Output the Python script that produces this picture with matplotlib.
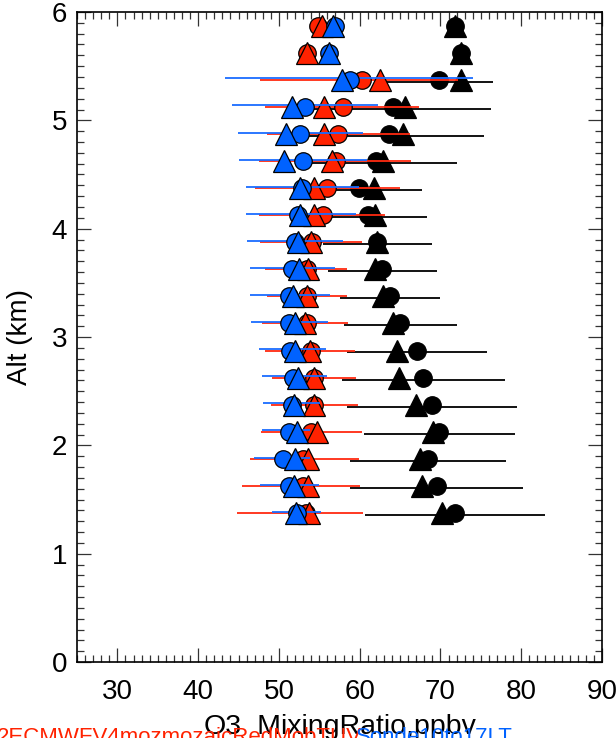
import numpy as np
import matplotlib
matplotlib.use("Agg")
import matplotlib.pyplot as plt
from matplotlib.ticker import MultipleLocator

plt.rcParams['font.family'] = ['Liberation Sans', 'DejaVu Sans']

# Altitude levels (km)
alt = [1.375, 1.625, 1.875, 2.125, 2.375, 2.625, 2.875, 3.125, 3.375, 3.625,
       3.875, 4.125, 4.375, 4.625, 4.875, 5.125, 5.375, 5.625, 5.875]

# Blue series (Sonde)
blue_circ = [52.2, 51.2, 50.5, 51.2, 51.6, 51.8, 51.4, 51.2, 51.2, 51.6,
             52.0, 52.4, 52.9, 53.0, 52.6, 53.2, 58.8, 56.2, 56.9]
blue_tri = [52.1, 51.9, 52.0, 52.2, 51.9, 52.3, 52.0, 52.0, 51.8, 52.5,
            52.3, 52.6, 52.6, 50.6, 50.9, 51.6, 57.8, 56.2, 56.7]
blue_lo = [49.1, 47.6, 46.9, 47.9, 48.0, 47.9, 47.5, 46.5, 46.4, 46.4,
           46.0, 45.9, 45.9, 45.1, 44.9, 44.2, 43.3, np.nan, np.nan]
blue_hi = [55.2, 55.0, 53.8, 53.8, 55.1, 55.9, 55.8, 56.1, 56.3, 56.9,
           57.9, 59.5, 59.9, 60.9, 60.4, 62.3, 74.0, np.nan, np.nan]

# Red series (model)
red_circ = [53.3, 53.0, 53.0, 54.0, 54.3, 54.3, 54.0, 53.5, 53.5, 53.5,
            54.1, 55.5, 55.9, 57.1, 57.3, 57.9, 60.3, 53.5, 54.8]
red_tri = [53.7, 53.6, 53.6, 54.7, 54.3, 54.4, 53.8, 53.2, 53.5, 53.6,
           54.0, 54.3, 54.3, 56.6, 55.6, 55.6, 62.5, 53.5, 55.3]
red_lo = [44.8, 45.4, 46.4, 47.8, 49.0, 49.1, 48.3, 47.9, 48.5, 48.3,
          47.6, 47.5, 47.0, 47.5, 48.5, 48.3, 47.7, np.nan, np.nan]
red_hi = [60.4, 60.0, 59.9, 60.3, 59.8, 59.5, 59.4, 58.5, 58.4, 58.4,
          60.3, 63.1, 65.0, 66.3, 66.2, 67.4, 72.2, np.nan, np.nan]

# Black series
blk_circ = [71.8, 69.6, 68.5, 69.8, 68.9, 67.8, 67.1, 65.0, 63.7, 62.8,
            62.1, 61.0, 59.9, 62.0, 63.6, 64.1, 69.8, 72.6, 71.8]
blk_tri = [70.2, 67.7, 67.5, 69.1, 67.0, 64.9, 64.6, 64.1, 62.9, 61.9,
           62.1, 61.9, 61.8, 62.9, 65.3, 65.6, 72.6, 72.6, 71.8]
blk_lo = [60.6, 58.8, 58.8, 60.5, 58.4, 57.8, 58.4, 58.0, 57.5, 56.1,
          55.5, 53.7, 52.1, 52.0, 51.8, 51.9, 63.1, np.nan, np.nan]
blk_hi = [83.0, 80.2, 78.1, 79.2, 79.5, 78.0, 75.8, 72.0, 70.0, 69.6,
          68.9, 68.3, 67.7, 72.0, 75.4, 76.3, 76.5, np.nan, np.nan]

x_label = "O3_MixingRatio,ppbv"
y_label = "Alt (km)"
red_name = "2ECMWFV4mozmozaicRedMobTUV"
blue_name = "Sonde10to17LT"

RED = '#ff2200'
BLUE = '#0062ff'
BLACK = '#000000'

W, H = 616, 738
fig = plt.figure(figsize=(W / 100, H / 100), dpi=100)
ax = fig.add_axes([77 / W, 1 - 662 / H, (602 - 77) / W, (662 - 12) / H])

a = np.array(alt)
series = [
    (BLACK, blk_circ, blk_tri, blk_lo, blk_hi, -0.018, '#000000'),
    (RED, red_circ, red_tri, red_lo, red_hi, 0.0, '#ff2a10'),
    (BLUE, blue_circ, blue_tri, blue_lo, blue_hi, 0.012, '#1a6cff'),
]
z = 2
for col, circ, tri, lo, hi, off, lcol in series:
    ax.hlines(a + off, lo, hi, colors=lcol, lw=1.3, zorder=z)
    ax.plot(circ, a, 'o', ms=12.6, mfc=col, mec='black', mew=0.9,
            ls='none', zorder=z + 1)
    ax.plot(tri, a, '^', ms=15.5, mfc=col, mec='black', mew=0.9,
            ls='none', zorder=z + 2)
    z += 3

ax.set_xlim(25, 90)
ax.set_ylim(0, 6)
ax.xaxis.set_major_locator(MultipleLocator(10))
ax.xaxis.set_minor_locator(MultipleLocator(1))
ax.yaxis.set_major_locator(MultipleLocator(1))
ax.yaxis.set_minor_locator(MultipleLocator(0.1))
ax.tick_params(which='both', direction='in', top=True, right=True,
               color='#333333', width=0.9)
ax.tick_params(which='major', length=10)
ax.tick_params(which='minor', length=5)
ax.tick_params(axis='x', which='major', labelsize=20, pad=12)
ax.tick_params(axis='y', which='major', labelsize=20, pad=7)
for s in ax.spines.values():
    s.set_linewidth(1.2)

fig.text(20 / W, 1 - 337 / H, y_label, rotation=90, fontsize=20,
         ha='center', va='center')
fig.text(340 / W, 1 - 734 / H, x_label, fontsize=20.5,
         ha='center', va='baseline')
fig.text(-3 / W, 1 - 743 / H, red_name, fontsize=16, color=RED,
         ha='left', va='baseline')
fig.text(356 / W, 1 - 743 / H, blue_name, fontsize=16, color=BLUE,
         ha='left', va='baseline')

fig.savefig('out.png', dpi=100)
